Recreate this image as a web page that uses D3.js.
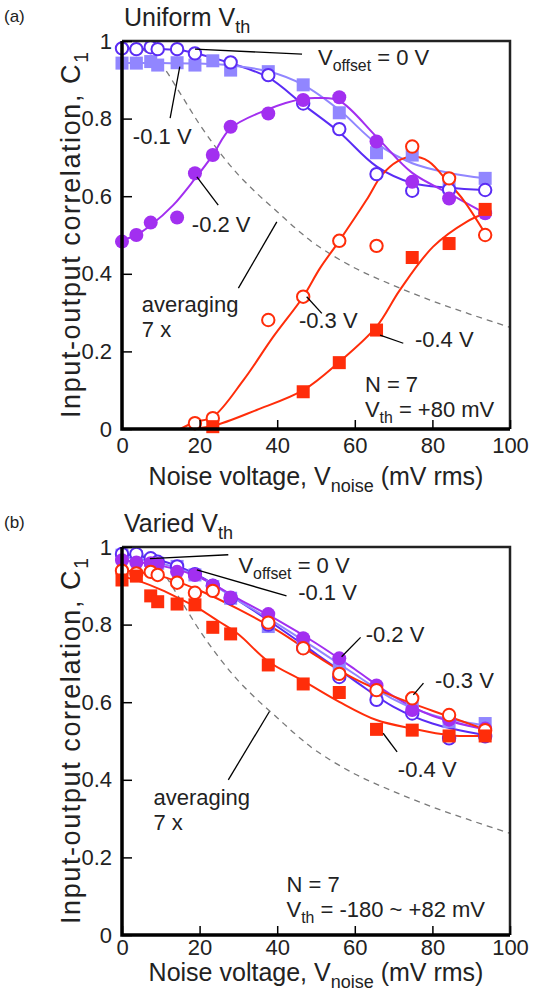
<!DOCTYPE html>
<html><head><meta charset="utf-8">
<script src="https://cdn.jsdelivr.net/npm/d3@7"></script>
<style>
body{margin:0;background:#fff}
svg{display:block}
text{font-family:"Liberation Sans",Arial,Helvetica,sans-serif;fill:#222;white-space:pre}
</style>
</head><body>
<svg id="chart" width="535" height="996"></svg>
<script>
// ---------- data ----------
const noise = [0, 3.7, 7.4, 9.2, 14.2, 18.8, 23.4, 28, 37.7, 46.7, 56, 65.6, 74.8, 84.3, 93.6];
const xTicks = [0, 20, 40, 60, 80, 100];
const yTicks = [0, 0.2, 0.4, 0.6, 0.8, 1];
const seriesNames = ["0 V", "-0.1 V", "-0.2 V", "-0.3 V", "-0.4 V"];

// panel (a) uniform Vth - measured points
const a0 = [0.981, 0.979, 0.984, 0.979, 0.979, 0.968, null, 0.945, 0.912, 0.839, 0.773, 0.657, 0.614, 0.617, 0.616];
const a1 = [0.943, 0.943, 0.947, 0.938, 0.944, 0.938, 0.949, 0.925, 0.921, 0.887, 0.815, 0.712, 0.706, 0.624, 0.646];
const a2 = [0.483, 0.500, 0.532, null, 0.545, 0.659, 0.706, 0.779, 0.813, 0.848, 0.855, 0.741, 0.637, 0.594, 0.556];
const a3 = [null, null, null, null, null, 0.015, 0.028, null, 0.281, 0.341, 0.485, 0.472, 0.728, 0.646, 0.500];
const a4 = [null, null, null, null, null, null, 0.006, null, null, 0.096, 0.171, 0.255, 0.442, 0.478, 0.566];

// panel (a) fitted curves
const fitXa0 = [0, 5, 10, 15, 20, 28, 37.7, 46.7, 56, 65.6, 74.8, 84.3, 93.6];
const fitYa0 = [0.982, 0.980, 0.979, 0.976, 0.966, 0.943, 0.906, 0.836, 0.765, 0.677, 0.634, 0.622, 0.616];
const fitXa1 = [0, 10, 20, 28, 37.7, 46.7, 56, 65.6, 74.8, 84.3, 93.6];
const fitYa1 = [0.943, 0.943, 0.942, 0.937, 0.922, 0.887, 0.822, 0.736, 0.685, 0.660, 0.646];
const fitXa2 = [0, 3.7, 7.4, 13.2, 18.8, 23.4, 28, 37.7, 46.7, 51, 56, 65.6, 74.8, 84.3, 93.6];
const fitYa2 = [0.487, 0.500, 0.525, 0.577, 0.645, 0.706, 0.775, 0.824, 0.851, 0.853, 0.846, 0.753, 0.660, 0.607, 0.556];
const fitXa3 = [15, 18.8, 23.4, 31.3, 39, 46.7, 51, 56, 63, 67, 71, 75, 79, 84.3, 88, 93.6];
const fitYa3 = [0, 0.018, 0.031, 0.126, 0.238, 0.341, 0.414, 0.485, 0.590, 0.655, 0.690, 0.702, 0.690, 0.633, 0.590, 0.504];
const fitXa4 = [16, 23.4, 34.7, 46.7, 56, 65.6, 71.6, 80.2, 88.8, 93.6];
const fitYa4 = [0, 0.008, 0.049, 0.100, 0.173, 0.264, 0.358, 0.470, 0.534, 0.556];

// panel (b) varied Vth - measured points
const b0 = [0.982, 0.982, 0.971, 0.962, 0.950, 0.930, 0.900, 0.868, 0.800, 0.740, 0.665, 0.606, 0.571, 0.507, 0.512];
const b1 = [0.979, 0.975, 0.965, 0.958, 0.950, 0.928, 0.898, 0.868, 0.795, 0.752, 0.690, 0.632, 0.585, 0.550, 0.545];
const b2 = [0.966, 0.960, 0.958, 0.956, 0.936, 0.928, 0.900, 0.870, 0.827, 0.765, 0.713, 0.643, 0.580, 0.555, 0.532];
const b3 = [0.939, 0.932, 0.936, 0.928, 0.908, 0.882, 0.887, null, 0.805, 0.739, 0.673, 0.631, 0.610, 0.567, 0.528];
const b4 = [0.915, 0.925, 0.874, 0.859, 0.853, 0.851, 0.793, 0.776, 0.696, 0.647, 0.625, 0.530, 0.528, 0.513, 0.513];

// panel (b) fitted curves
const fitXb = [0, 10, 20, 30, 40, 50, 60, 70, 80, 93.6];
const fitYb0 = [0.982, 0.965, 0.925, 0.862, 0.795, 0.725, 0.655, 0.588, 0.545, 0.515];
const fitYb1 = [0.975, 0.958, 0.922, 0.862, 0.802, 0.738, 0.672, 0.607, 0.567, 0.540];
const fitYb2 = [0.966, 0.952, 0.922, 0.866, 0.812, 0.752, 0.685, 0.615, 0.565, 0.530];
const fitYb3 = [0.940, 0.925, 0.888, 0.840, 0.785, 0.720, 0.660, 0.615, 0.578, 0.530];
const fitXb4 = [0, 5, 10, 15, 20, 25, 30, 37.7, 46.7, 56, 65.6, 74.8, 84.3, 93.6];
const fitYb4 = [0.925, 0.910, 0.890, 0.866, 0.840, 0.808, 0.775, 0.705, 0.655, 0.601, 0.554, 0.532, 0.515, 0.513];

// "averaging 7 x" reference (dashed)
const avgX = [0, 2.5, 5, 10, 15, 20, 25, 30, 35, 40, 45, 50, 60, 70, 80, 90, 100];
const avgY = [1, 0.995, 0.980, 0.940, 0.865, 0.785, 0.715, 0.655, 0.605, 0.560, 0.515, 0.475, 0.415, 0.370, 0.330, 0.295, 0.262];

// ---------- styles ----------
const colors = ["#5a2cf5", "#9186ff", "#a22ff0", "#ff2d0a", "#ff2d0a"];
const shapes = ["openCircle", "square", "circle", "openCircle", "square"];
const F = 22; // annotation font size

const svg = d3.select("#chart");
const x = d3.scaleLinear().domain([0, 100]).range([122, 510]);

function rich(g, px, py, parts, size, anchor, transform) {
  const t = g.append("text").attr("x", px).attr("y", py)
    .attr("font-size", size).attr("text-anchor", anchor || "start");
  if (transform) t.attr("transform", transform);
  let shift = 0;
  parts.forEach(p => {
    const sub = Array.isArray(p);
    const ts = t.append("tspan").text(sub ? p[0] : p);
    if (sub) { ts.attr("font-size", size * 0.72).attr("dy", size * 0.28); shift = size * 0.28; }
    else if (shift) { ts.attr("dy", -shift); shift = 0; }
  });
  return t;
}

function panel(y0px, y1px, pts, fitsX, fitsY, notes, title, tag, xlabGap) {
  const y = d3.scaleLinear().domain([0, 1]).range([y0px, y1px]);
  const g = svg.append("g");

  // dashed averaging curve
  const lineGen = d3.line().x(d => x(d[0])).y(d => y(d[1])).curve(d3.curveCatmullRom.alpha(0.5));
  g.append("path").datum(d3.zip(avgX, avgY)).attr("d", lineGen)
    .attr("fill", "none").attr("stroke", "#7a7a7a").attr("stroke-width", 1.3).attr("stroke-dasharray", "6,5");

  // fitted curves
  fitsX.forEach((fx, i) => {
    g.append("path").datum(d3.zip(fx, fitsY[i])).attr("d", lineGen)
      .attr("fill", "none").attr("stroke", colors[i]).attr("stroke-width", 2);
  });

  // markers (order: -0.1, 0, -0.2, -0.3, -0.4)
  [1, 0, 2, 3, 4].forEach(i => {
    const data = noise.map((n, k) => [n, pts[i][k]]).filter(d => d[1] !== null);
    const c = colors[i];
    const sel = g.append("g").selectAll("g").data(data).join("g")
      .attr("transform", d => `translate(${x(d[0])},${y(d[1])})`);
    if (shapes[i] === "square") {
      sel.append("rect").attr("x", -6.5).attr("y", -6.5).attr("width", 13).attr("height", 13).attr("fill", c);
    } else if (shapes[i] === "circle") {
      sel.append("circle").attr("r", 7).attr("fill", c);
    } else {
      sel.append("circle").attr("r", 6.2).attr("fill", "#fff").attr("stroke", c).attr("stroke-width", 2);
    }
  });

  // frame
  g.append("path").attr("d", `M${x(0)},${y(1)}H${x(100)}V${y(0)}`)
    .attr("fill", "none").attr("stroke", "#222").attr("stroke-width", 2.5);
  g.append("path").attr("d", `M${x(0)},${y(1)}V${y(0)}H${x(100)}`)
    .attr("fill", "none").attr("stroke", "#000").attr("stroke-width", 3.5);

  // axes
  const xa = g.append("g").attr("transform", `translate(0,${y0px})`)
    .call(d3.axisBottom(x).tickValues(xTicks).tickSizeInner(-9).tickSizeOuter(0).tickPadding(xlabGap[0]));
  xa.select(".domain").remove();
  xa.selectAll("line").attr("stroke", "#000").attr("stroke-width", 1.5);
  xa.selectAll("text").attr("font-size", 22).attr("fill", "#222").attr("font-family", "Liberation Sans, Arial, sans-serif");

  const ya = g.append("g").attr("transform", `translate(${x(0)},0)`)
    .call(d3.axisLeft(y).tickValues(yTicks).tickSizeInner(-10).tickSizeOuter(0).tickPadding(10)
      .tickFormat(d => d === 0 ? "0" : d === 1 ? "1" : d3.format(".1f")(d)));
  ya.select(".domain").remove();
  ya.selectAll("line").attr("stroke", "#000").attr("stroke-width", 1.5);
  ya.selectAll("text").attr("font-size", 22).attr("fill", "#222").attr("font-family", "Liberation Sans, Arial, sans-serif");

  // axis titles
  rich(g, 316, y0px + xlabGap[1], ["Noise voltage, V", ["noise"], " (mV rms)"], 25, "middle");
  const cy = (y0px + y1px) / 2;
  rich(g, 0, 0, ["Input-output correlation, C", ["1"]], 27, "middle", `translate(80,${cy}) rotate(-90)`)
    .attr("textLength", 366).attr("lengthAdjust", "spacing");

  // titles
  rich(g, 124, y1px - 15, title, 25, "start");
  g.append("text").attr("x", 4).attr("y", y1px - 19).attr("font-size", 17).text(tag);

  // annotations (data coords)
  notes.forEach(n => {
    if (n.line) {
      g.append("line").attr("x1", x(n.line[0])).attr("y1", y(n.line[1]))
        .attr("x2", x(n.line[2])).attr("y2", y(n.line[3])).attr("stroke", "#000").attr("stroke-width", 1.3);
    }
    n.text.forEach((parts, k) => rich(g, x(n.at[0]), y(n.at[1]) + k * 25, parts, F, "start"));
  });
}

panel(429, 41, [a0, a1, a2, a3, a4],
  [fitXa0, fitXa1, fitXa2, fitXa3, fitXa4], [fitYa0, fitYa1, fitYa2, fitYa3, fitYa4],
  [
    {at: [50.5, 0.938], text: [["V", ["offset"], " = 0 V"]], line: [18.8, 0.979, 46.4, 0.966]},
    {at: [2.8, 0.735], text: [[seriesNames[1]]], line: [14.9, 0.934, 12.4, 0.801]},
    {at: [18, 0.509], text: [[seriesNames[2]]], line: [19.3, 0.65, 24.8, 0.577]},
    {at: [5.1, 0.302], text: [["averaging"], ["7 x"]], line: [30, 0.363, 39.9, 0.534]},
    {at: [45.6, 0.26], text: [[seriesNames[3]]], line: [47.6, 0.341, 51.5, 0.298]},
    {at: [75.5, 0.212], text: [[seriesNames[4]]], line: [66.5, 0.242, 72.5, 0.221]},
    {at: [62.6, 0.096], text: [["N = 7"], ["V", ["th"], " = +80 mV"]]}
  ],
  ["Uniform V", ["th"]], "(a)", [8, 56]);

panel(935, 547, [b0, b1, b2, b3, b4],
  [fitXb, fitXb, fitXb, fitXb, fitXb4], [fitYb0, fitYb1, fitYb2, fitYb3, fitYb4],
  [
    {at: [30, 0.934], text: [["V", ["offset"], " = 0 V"]], line: [7.2, 0.97, 27.4, 0.98]},
    {at: [45.4, 0.863], text: [[seriesNames[1]]], line: [19.3, 0.941, 42.4, 0.874]},
    {at: [62.8, 0.756], text: [[seriesNames[2]]], line: [56.6, 0.717, 61.5, 0.767]},
    {at: [80.7, 0.636], text: [[seriesNames[3]]], line: [75.1, 0.619, 77.7, 0.649]},
    {at: [71.1, 0.407], text: [[seriesNames[4]]], line: [67.3, 0.52, 70.9, 0.472]},
    {at: [8.1, 0.335], text: [["averaging"], ["7 x"]], line: [27.4, 0.4, 38, 0.576]},
    {at: [42.4, 0.112], text: [["N = 7"], ["V", ["th"], " = -180 ~ +82 mV"]]}
  ],
  ["Varied V", ["th"]], "(b)", [4, 46]);
</script>
</body></html>
